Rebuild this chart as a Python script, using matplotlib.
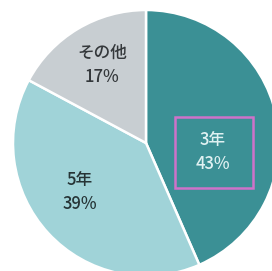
import matplotlib.pyplot as plt
import matplotlib.patches as patches

plt.rcParams['font.family'] = ['Noto Sans CJK JP', 'DejaVu Sans']

# Data
categories = ["3年", "5年", "その他"]
shares = [43, 39, 17]
colors = ["#3b9095", "#a0d3d8", "#c8ced2"]
text_colors = ["#dff1f2", "#263436", "#34383b"]

# Label positions (data units, pie radius = 1)
label_pos = [(0.50, -0.07), (-0.50, -0.37), (-0.33, 0.59)]

fig = plt.figure(figsize=(2.72, 2.71), dpi=100)
ax = fig.add_axes([0, 0, 1, 1])

ax.pie(shares, colors=colors, startangle=90, counterclock=False,
       radius=1.0, wedgeprops=dict(edgecolor="white", linewidth=1.8))

for (x, y), name, val, tc in zip(label_pos, categories, shares, text_colors):
    ax.text(x, y, f"{name}\n{val}%", ha="center", va="center",
            fontsize=12, color=tc, linespacing=1.45, fontweight="medium")

# Pink highlight box around the 3年 label
rect = patches.Rectangle((0.218, -0.338), 0.587, 0.533, fill=False,
                         edgecolor="#cf72c9", linewidth=1.8)
ax.add_patch(rect)

ax.set_xlim(-146 / 133, (272 - 146) / 133)
ax.set_ylim(-(271 - 143) / 133, 143 / 133)
ax.set_aspect("equal")
ax.axis("off")

fig.savefig("out.png", dpi=100, facecolor="white")
